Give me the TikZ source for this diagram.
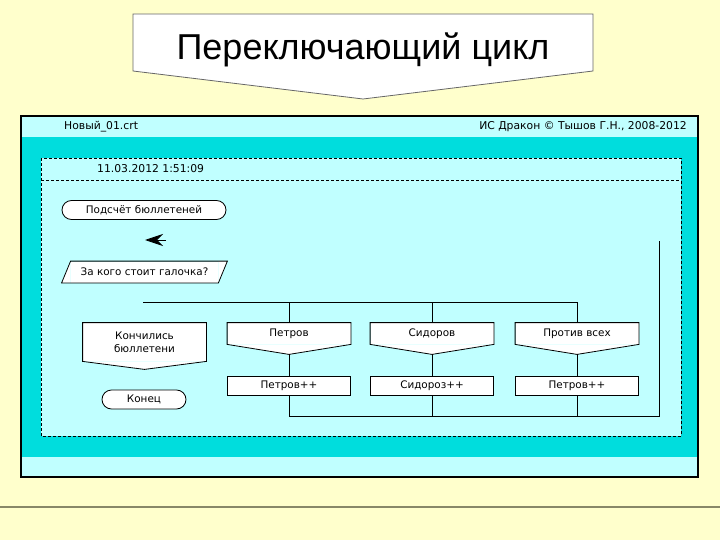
\documentclass[tikz,border=0pt]{standalone}
\usepackage{fontspec}
\setmainfont{Liberation Sans}
\newfontfamily\drakonfont{DejaVu Sans}
\usetikzlibrary{arrows.meta,calc}

\definecolor{slidecream}{RGB}{255,255,204}
\definecolor{paleaqua}{RGB}{192,255,255}
\definecolor{bandaqua}{RGB}{0,221,221}
\definecolor{footline}{RGB}{136,136,104}

\tikzset{
  icon/.style={draw, fill=white, line width=0.8pt, inner sep=0pt,
    font=\drakonfont\fontsize{10.4}{13}\selectfont},
  terminal/.style={icon, rounded corners=9.5pt, minimum height=19pt},
  action/.style={icon, minimum width=123pt, minimum height=19pt},
  casebox/.style={icon, draw=none, minimum width=123pt, minimum height=21pt},
  wire/.style={line width=0.8pt},
  panelline/.style={line width=0.8pt, dash pattern=on 3pt off 2pt},
  caption/.style={font=\drakonfont\fontsize{10.8}{12}\selectfont, inner sep=0pt},
}

\begin{document}
\begin{tikzpicture}[x=1pt,y=-1pt]
  \useasboundingbox (0,0) rectangle (720,540);
  \fill[slidecream] (0,0) rectangle (720,540);

  % Title box
  \draw[fill=white, draw=black!60, line width=0.8pt]
    (133,14) -- (593,14) -- (593,71) -- (363,99) -- (133,71) -- cycle;
  \node[anchor=base, font=\fontsize{36}{40}\selectfont] (title) at (363,60) {Переключающий цикл};

  % Window of the editor
  \fill[paleaqua] (21,116) rectangle (698,477);
  \fill[bandaqua] (21,137) rectangle (698,457);
  \draw[line width=1.2pt] (21,116) rectangle (698,477);
  \node[caption, anchor=west] (file) at (64,127) {Новый\_01.crt};
  \node[caption, anchor=east] (brand) at (687,127) {ИС Дракон © Тышов Г.Н., 2008-2012};

  % Dashed sheet
  \fill[paleaqua] (41,158) rectangle (681,436);
  \draw[panelline] (41,158) rectangle (681,436);
  \draw[panelline] (41,180) -- (681,180);
  \node[caption, anchor=west] (date) at (97,169) {11.03.2012 1:51:09};

  % Start, arrow and question
  \node[terminal, minimum width=164pt] (start) at (144,210) {Подсчёт бюллетеней};
  \draw[wire, -{Stealth[length=18pt,width=12pt,inset=6pt]}] (166,240) -- (145,240);
  \node[icon, draw=none, minimum width=147pt, minimum height=21pt] (ask) at (144.5,272) {За кого стоит галочка?};
  \fill[white] (ask.south west) -- ($(ask.south west)+(-9,0)$) -- (ask.north west) -- cycle;
  \fill[white] (ask.north east) -- ($(ask.north east)+(9,0)$) -- (ask.south east) -- cycle;
  \draw[wire] ($(ask.south west)+(-9,0)$) -- (ask.north west) -- ($(ask.north east)+(9,0)$)
    -- (ask.south east) -- cycle;

  % Exit branch
  \node[casebox, minimum height=38pt, align=center] (ended) at (144.5,342) {Кончились\\бюллетени};
  \fill[white] (ended.south west) -- (ended.south east) -- ($(ended.south)+(0,8)$) -- cycle;
  \draw[wire] (ended.north west) -- (ended.north east) -- (ended.south east)
    -- ($(ended.south)+(0,8)$) -- (ended.south west) -- cycle;
  \node[terminal, minimum width=84pt] (finish) at (144,399.5) {Конец};

  % Switch branches
  \coordinate (fork) at (143,302);
  \coordinate (loopB) at (659,416);
  \coordinate (loopT) at (659,241);
  \foreach \nm/\cx/\lbl/\inc in {petrov/289/Петров/Петров++,
      sidorov/432/Сидоров/Сидороз++, protiv/577/Против всех/Петров++} {
    \node[casebox] (\nm) at (\cx,333.5) {\lbl};
    \fill[white] (\nm.south west) -- (\nm.south east) -- ($(\nm.south)+(0,10)$) -- cycle;
    \draw[wire] (\nm.north west) -- (\nm.north east) -- (\nm.south east)
      -- ($(\nm.south)+(0,10)$) -- (\nm.south west) -- cycle;
    \node[action] (\nm-inc) at (\cx,385.5) {\inc};
    \draw[wire] (\nm.north |- fork) -- (\nm.north);
    \draw[wire] ($(\nm.south)+(0,10)$) -- (\nm-inc.north);
    \draw[wire] (\nm-inc.south) -- (\nm-inc.south |- loopB);
  }
  \draw[wire] (fork) -- (protiv.north |- fork);
  \draw[wire] (petrov-inc.south |- loopB) -- (loopB) -- (loopT);

  % Footer rule
  \draw[footline, line width=2pt] (0,507) -- (720,507);
\end{tikzpicture}
\end{document}
